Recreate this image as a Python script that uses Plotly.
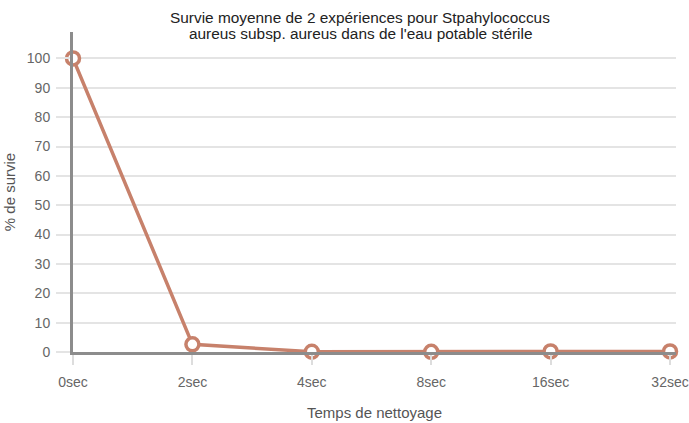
import plotly.graph_objects as go

categories = ["0sec", "2sec", "4sec", "8sec", "16sec", "32sec"]
survie = [100, 2.6, 0.1, 0.05, 0.2, 0.2]
y_ticks = [0, 10, 20, 30, 40, 50, 60, 70, 80, 90, 100]
title_lines = ["Survie moyenne de 2 expériences pour Stpahylococcus",
               "aureus subsp. aureus dans de l'eau potable stérile"]

FONT = "Liberation Sans, Arial, sans-serif"
COL = "#c7816b"

fig = go.Figure()
fig.add_trace(go.Scatter(
    x=categories, y=survie, mode="lines+markers",
    line=dict(color=COL, width=3.5),
    marker=dict(size=13, color="white", line=dict(color=COL, width=3.5)),
    cliponaxis=False, showlegend=False,
))

fig.update_layout(
    width=689, height=423,
    margin=dict(l=73, r=13, t=32, b=71, autoexpand=False),
    paper_bgcolor="white", plot_bgcolor="white",
    font=dict(family=FONT, color="#555555", size=14),
)
for i, (line, ypx) in enumerate(zip(title_lines, [17, 34])):
    fig.add_annotation(
        text=line, xref="paper", yref="paper",
        x=(360 - 73) / (676 - 73), y=(352 - ypx) / 320,
        xanchor="center", yanchor="middle", showarrow=False,
        font=dict(size=15.4, color="#222222", family=FONT),
    )
fig.update_xaxes(
    type="category", range=[0, 5.05], automargin=False,
    showgrid=False, zeroline=False,
    showline=True, linecolor="#8c8c8c", linewidth=3,
    ticks="outside", ticklen=10, tickcolor="#dddddd", tickwidth=2,
    ticklabelstandoff=5,
    tickfont=dict(size=14, color="#666666"),
    title=dict(text="Temps de nettoyage", font=dict(size=15, color="#555555"), standoff=19),
)
fig.update_yaxes(
    range=[0, 109], tickvals=y_ticks, automargin=False,
    showgrid=True, gridcolor="#e4e4e4", gridwidth=2,
    zeroline=False,
    showline=True, linecolor="#8c8c8c", linewidth=3,
    ticks="outside", ticklen=14, tickcolor="#e4e4e4", tickwidth=2,
    ticklabelstandoff=3,
    tickfont=dict(size=14, color="#666666"),
    title=dict(text="% de survie", font=dict(size=15, color="#555555"), standoff=8),
)

fig.write_html("out.html", config={"displayModeBar": False},
               post_script="document.body.style.margin='0';")
